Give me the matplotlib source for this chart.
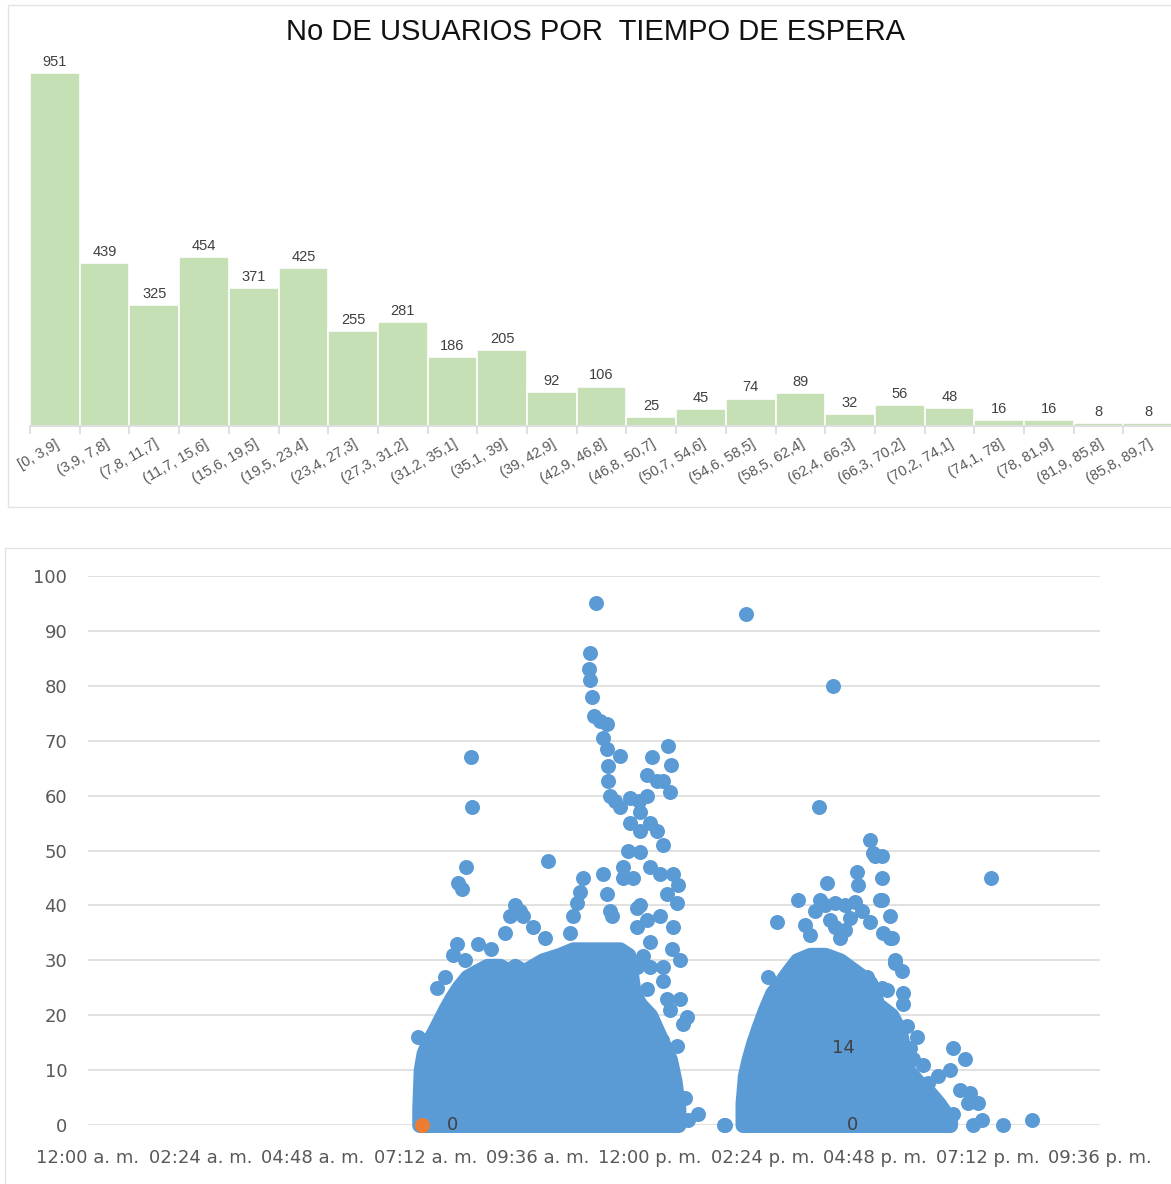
import matplotlib
matplotlib.use("Agg")
import numpy as np
import matplotlib.pyplot as plt
from matplotlib.patches import Rectangle

# histogram: users per waiting-time bin
bin_labels = ["[0, 3,9]", "(3,9, 7,8]", "(7,8, 11,7]", "(11,7, 15,6]", "(15,6, 19,5]",
              "(19,5, 23,4]", "(23,4, 27,3]", "(27,3, 31,2]", "(31,2, 35,1]", "(35,1, 39]",
              "(39, 42,9]", "(42,9, 46,8]", "(46,8, 50,7]", "(50,7, 54,6]", "(54,6, 58,5]",
              "(58,5, 62,4]", "(62,4, 66,3]", "(66,3, 70,2]", "(70,2, 74,1]", "(74,1, 78]",
              "(78, 81,9]", "(81,9, 85,8]", "(85,8, 89,7]"]
bin_counts = [951, 439, 325, 454, 371, 425, 255, 281, 186, 205, 92, 106,
              25, 45, 74, 89, 32, 56, 48, 16, 16, 8, 8]

# scatter: waiting time vs time of day (hours since midnight)
time_labels = ["12:00 a. m.", "02:24 a. m.", "04:48 a. m.", "07:12 a. m.", "09:36 a. m.",
               "12:00 p. m.", "02:24 p. m.", "04:48 p. m.", "07:12 p. m.", "09:36 p. m."]

# upper edge of the dense morning cloud
blob1_hours = [7.07, 7.10, 7.16, 7.25, 7.38, 7.50, 7.62, 7.75, 7.90, 8.09, 8.30, 8.52,
               8.79, 9.00, 9.11, 9.30, 9.50, 9.70, 10.07, 10.35, 10.60, 10.78, 11.00,
               11.14, 11.35, 11.53, 11.65, 11.78, 12.00, 12.21, 12.42, 12.52, 12.60]
blob1_top = [3, 10, 13, 15, 17, 19, 21, 23, 25, 27, 28, 29, 29, 28, 29, 28, 29, 30, 31,
             32, 32, 32, 32, 32, 32, 31, 24, 22, 20, 16, 12, 8, 3]
# upper edge of the dense afternoon cloud
blob2_hours = [13.97, 14.02, 14.10, 14.20, 14.32, 14.45, 14.60, 14.78, 14.95, 15.13,
               15.41, 15.73, 16.05, 16.37, 16.69, 16.85, 17.00, 17.15, 17.33, 17.50,
               17.70, 17.95, 18.15, 18.40]
blob2_top = [4, 9, 12, 15, 18, 21, 24, 26, 28, 30, 31, 31, 30, 28, 26, 22, 21, 20, 17,
             10, 8, 6, 4, 1]

# individual points outside the dense clouds
point_hours = [7.04, 7.45, 7.79, 7.88, 8.32, 7.98, 7.90, 8.07, 9.82, 8.18, 8.20,
               8.90, 9.01, 9.11, 9.22, 9.28, 9.50, 9.75, 8.60, 8.05, 7.62,
               10.84, 10.72, 10.69, 10.72, 10.75, 10.80, 10.93, 11.07, 10.99, 11.07,
               11.36, 11.10, 11.10, 11.14, 11.25, 11.36, 11.57, 11.75, 11.93, 12.14,
               12.27, 12.38, 12.44, 12.03, 11.93, 12.42, 11.78, 11.78, 12.00, 12.14,
               12.27, 11.57, 11.53, 11.78, 11.42, 11.42, 11.63, 12.00, 12.21, 12.49,
               12.59, 12.57, 12.35, 12.49, 11.71, 11.78, 11.71, 11.93, 12.21, 12.00,
               11.85, 12.46, 12.64, 11.71, 12.00, 12.27, 12.27, 11.93, 12.35, 12.64,
               12.42, 12.78, 12.70, 12.57, 12.10, 12.25, 10.57, 10.50, 10.43, 10.35,
               10.99, 11.07, 11.14, 11.18, 10.29, 13.02, 13.57, 12.55, 12.75, 12.80,
               13.60, 14.04, 15.90, 15.60, 14.51, 14.71, 15.15, 15.77, 15.52, 15.62,
               15.73, 15.94, 16.16, 16.37, 16.52, 16.26, 15.84, 16.69, 15.30, 15.41,
               16.16, 16.41, 16.44, 16.69, 16.76, 16.80, 16.95, 16.90, 17.12, 16.97,
               17.16, 17.22, 16.76, 16.63, 17.05, 16.95, 16.95, 17.12, 17.22, 17.37,
               16.95, 17.40, 17.40, 17.48, 17.69, 17.55, 17.61, 17.82, 18.46, 18.72,
               18.40, 18.14, 17.93, 18.61, 18.83, 19.00, 18.78, 19.08, 18.89, 19.53,
               20.15, 18.34, 18.46, 19.27, 16.05, 15.95]
point_waits = [16, 25, 31, 33, 33, 43, 44, 47, 48, 67, 58,
               35, 38, 40, 39, 38, 36, 34, 32, 30, 27,
               95, 86, 83, 81, 78, 74.5, 73.5, 73, 70.5, 68.5,
               67.3, 65.4, 62.7, 60, 59, 58, 59.5, 59, 60, 62.7,
               62.7, 69, 65.6, 67, 63.8, 60.7, 57, 53.6, 55, 53.5,
               51, 55, 50, 49.7, 47, 45, 45, 47, 45.7, 45.7,
               43.8, 40.5, 42, 36, 39.5, 40, 36, 37.3, 38, 33.3,
               30.8, 32, 30, 28.8, 28.8, 28.8, 26.2, 24.8, 23, 23,
               21, 19.7, 18.4, 14.4, 17.7, 15.4, 45, 42.4, 40.5, 38,
               45.7, 42, 39, 38, 35, 2, 0, 3, 5, 1,
               0, 93, 80, 58, 27, 37, 41, 44, 39, 41,
               40, 40.4, 40, 40.6, 39, 37.7, 37.3, 37, 36.4, 34.6,
               35.5, 46, 43.7, 52, 49.5, 49, 45, 41, 38, 35,
               34, 29.5, 24.6, 27, 24.6, 49, 41, 34, 30, 28,
               25, 24, 22, 18, 16, 14, 12, 11, 14, 12,
               10, 9, 7.6, 6.4, 5.8, 4, 4, 1, 0, 0,
               1, 0, 2, 45, 34, 36]

orange_hours = [7.13]
orange_waits = [0]
label_hours = [7.13, 15.35, 15.67]
label_waits = [0, 14, 0]
label_texts = ["0", "14", "0"]

W, H = 1171, 1184
fig = plt.figure(figsize=(W / 100, H / 100), dpi=100)
sans = ["Liberation Sans", "DejaVu Sans"]
narrow = ["Liberation Sans Narrow", "Liberation Sans", "DejaVu Sans"]
axis_font = ["DejaVu Sans"]
blue = "#5B9BD5"
grid_c = "#D9D9D9"

# panel borders
fig.add_artist(Rectangle((8 / W, 1 - 507 / H), 1.0, 502 / H, transform=fig.transFigure,
                         fill=False, edgecolor="#E3E3E3", lw=1))
fig.add_artist(Rectangle((5 / W, -0.01), 1.0, 1 - 548 / H + 0.01, transform=fig.transFigure,
                         fill=False, edgecolor="#E3E3E3", lw=1))

fig.text(595 / W, 1 - 32 / H, "No DE USUARIOS POR  TIEMPO DE ESPERA", ha="center",
         va="center", fontsize=21, family=sans, color="#111111")

# --- histogram ---
n = len(bin_counts)
ax1 = fig.add_axes([30 / W, 758 / H, n * 49.7 / W, 371.2 / H])
x = np.arange(n)
ax1.bar(x, bin_counts, width=1.0, align="edge", color="#C5E0B4", edgecolor="white", lw=1.2)
ax1.set_xlim(0, n)
ax1.set_ylim(0, 1000)
for s in ["top", "left", "right"]:
    ax1.spines[s].set_visible(False)
ax1.spines["bottom"].set_color(grid_c)
ax1.spines["bottom"].set_linewidth(1.2)
ax1.set_yticks([])
ax1.set_xticks(x + 0.5)
ax1.set_xticklabels(bin_labels, rotation=30, ha="right", rotation_mode="anchor",
                    fontsize=10.5, family=narrow, color="#595959")
ax1.tick_params(axis="x", which="major", length=0, pad=8)
ax1.set_xticks(np.arange(n + 1), minor=True)
ax1.tick_params(axis="x", which="minor", length=6, color=grid_c, width=1.2)
for i, c in enumerate(bin_counts):
    ax1.annotate(str(c), (i + 0.5, c), xytext=(0, 3), textcoords="offset points",
                 ha="center", va="bottom", fontsize=10.5, family=narrow, color="#404040")

# --- scatter ---
ax2 = fig.add_axes([88 / W, 59 / H, 1012 / W, 549 / H])
ax2.set_xlim(0, 21.6)
ax2.set_ylim(0, 100)
ax2.set_xticks(np.arange(len(time_labels)) * 2.4)
ax2.set_xticklabels(time_labels)
ax2.set_yticks(np.arange(0, 101, 10))
ax2.tick_params(length=0, labelsize=13, labelcolor="#595959")
ax2.tick_params(axis="y", pad=15)
ax2.tick_params(axis="x", pad=17)
for lab in ax2.get_xticklabels() + ax2.get_yticklabels():
    lab.set_family(axis_font)
for s in ax2.spines.values():
    s.set_visible(False)
ax2.grid(axis="y", color=grid_c, lw=1.1)
ax2.set_axisbelow(True)

msize = 10.8  # marker diameter in points
for hrs, top in [(blob1_hours, blob1_top), (blob2_hours, blob2_top)]:
    poly = ax2.fill_between(hrs, 0, top, facecolor=blue, edgecolor=blue, lw=msize,
                            clip_on=False, zorder=3)
    poly.set_joinstyle("round")
    poly.set_capstyle("round")
ax2.scatter(point_hours, point_waits, s=msize ** 2, color=blue, linewidths=0,
            clip_on=False, zorder=3)
ax2.scatter(orange_hours, orange_waits, s=msize ** 2, color="#ED7D31", linewidths=0,
            clip_on=False, zorder=4)
for h, w, t in zip(label_hours, label_waits, label_texts):
    ax2.annotate(t, (h, w), xytext=(18, 0), textcoords="offset points", ha="left",
                 va="center", fontsize=13, family=axis_font, color="#404040", zorder=5)

fig.savefig("out.png", dpi=100)
